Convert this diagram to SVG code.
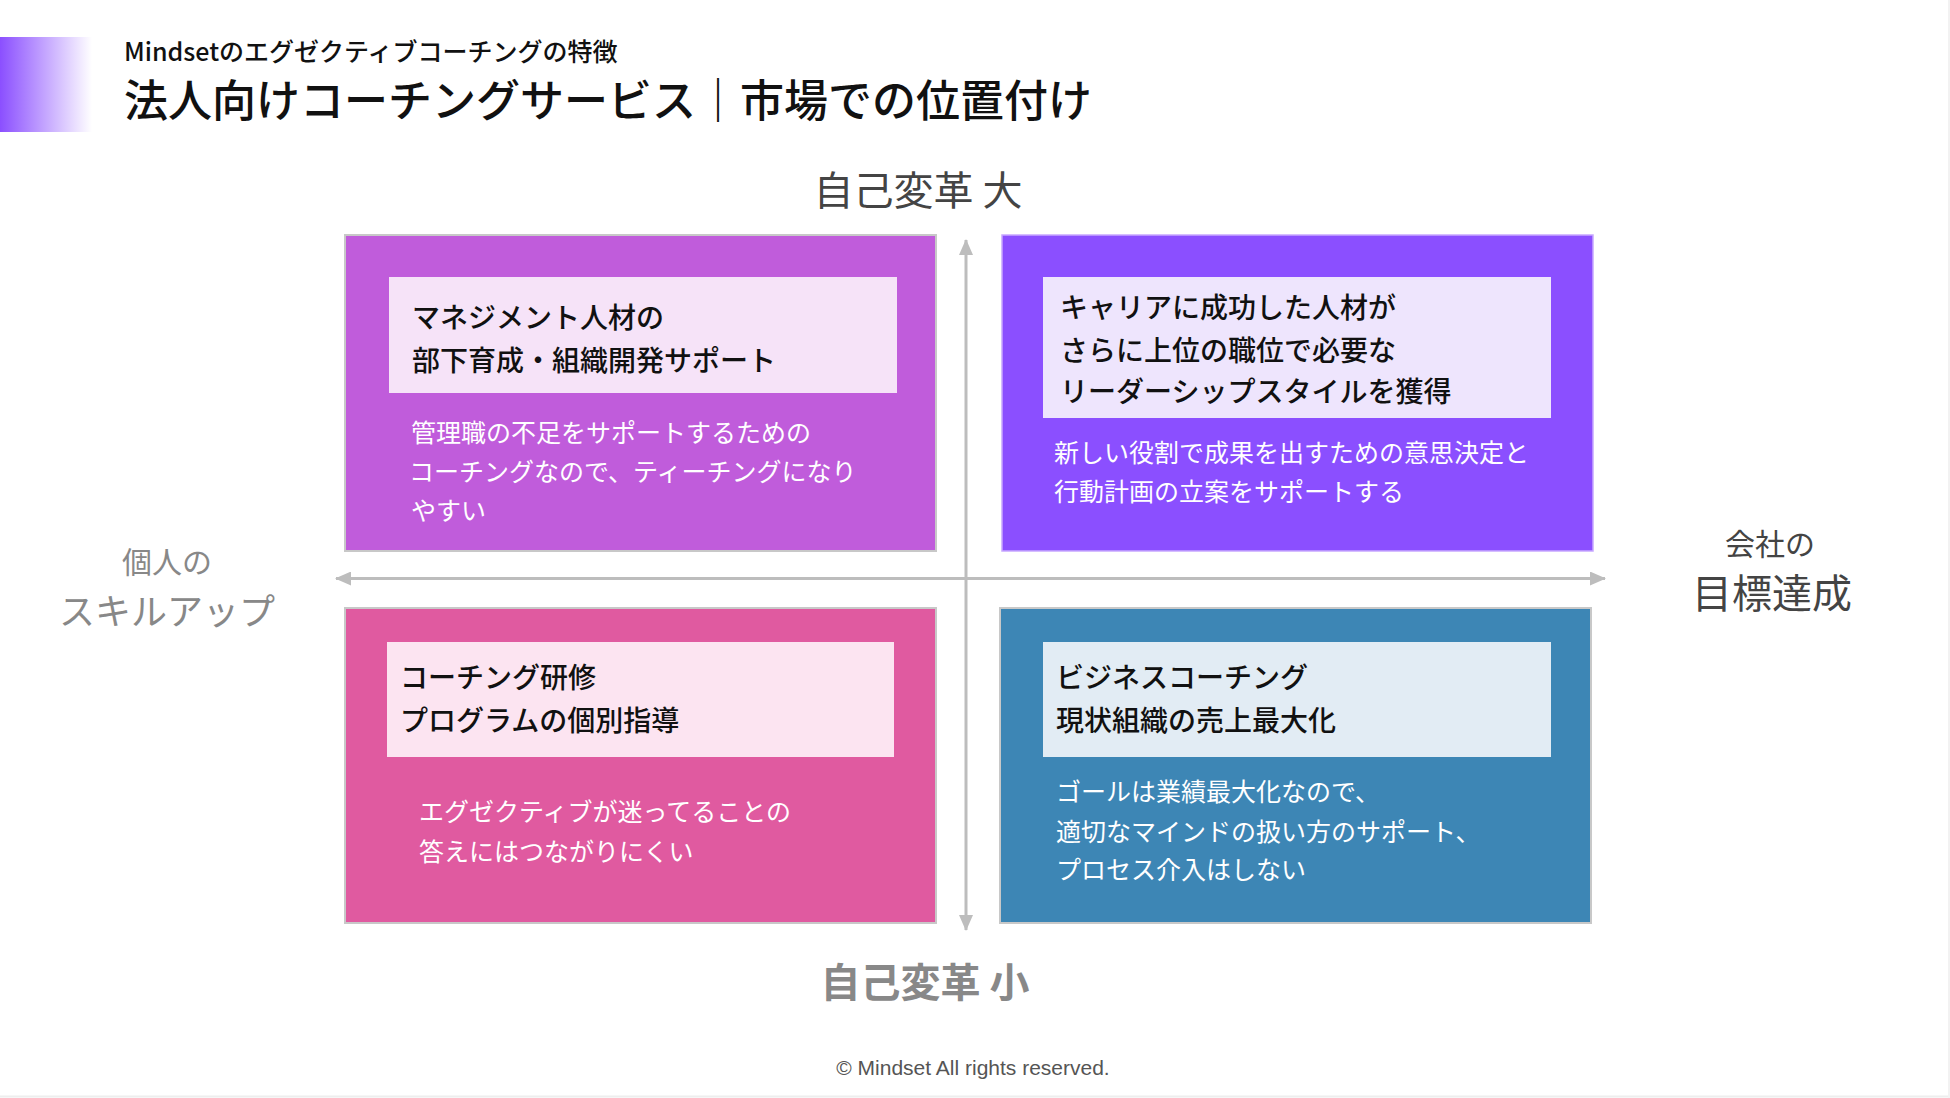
<svg xmlns="http://www.w3.org/2000/svg" width="1950" height="1098" viewBox="0 0 1950 1098">
<defs>
<linearGradient id="hdr" x1="0" y1="0" x2="1" y2="0">
<stop offset="0" stop-color="#8B4FFF"/>
<stop offset="1" stop-color="#8B4FFF" stop-opacity="0"/>
</linearGradient>
<marker id="ah" viewBox="0 0 16 14" refX="15" refY="7" markerWidth="16" markerHeight="14" markerUnits="userSpaceOnUse" orient="auto-start-reverse">
<path d="M0,0 L16,7 L0,14 Z" fill="#bdbdbd"/>
</marker>
<style>
text{font-family:"Noto Sans CJK JP","Noto Sans",sans-serif;}
.ttl{font-size:28px;font-weight:500;fill:#111;}
.dsc{font-size:25px;fill:#ffffff;}
.quad{stroke:#c8c8c8;stroke-width:2;}
.axis{stroke:#bdbdbd;stroke-width:3;fill:none;}
</style>
</defs>
<rect width="1950" height="1098" fill="#ffffff"/>
<line x1="0" y1="1096.5" x2="1950" y2="1096.5" stroke="#eeeeee" stroke-width="2"/>
<line x1="1949" y1="0" x2="1949" y2="1098" stroke="#f2f2f2" stroke-width="2"/>
<g id="header">
<rect x="0" y="37" width="92" height="95" fill="url(#hdr)"/>
<text x="124" y="61" font-size="25" font-weight="500" fill="#111">Mindsetのエグゼクティブコーチングの特徴</text>
<text x="124" y="117" font-size="44" font-weight="500" fill="#111">法人向けコーチングサービス｜市場での位置付け</text>
</g>
<g id="connectors">
<line class="axis" x1="966" y1="930" x2="966" y2="240" marker-start="url(#ah)" marker-end="url(#ah)"/>
<line class="axis" x1="336" y1="578.5" x2="1605" y2="578.5" marker-start="url(#ah)" marker-end="url(#ah)"/>
</g>
<g id="quad-tl">
<rect class="quad" x="345" y="235" width="591" height="316" fill="#C05CDB"/>
<rect x="389" y="277" width="508" height="116" fill="#F6E3F8"/>
<text class="ttl" x="412" y="328">マネジメント人材の</text>
<text class="ttl" x="412" y="371">部下育成・組織開発サポート</text>
<text class="dsc" x="411" y="442">管理職の不足をサポートするための</text>
<text class="dsc" x="409" y="481">コーチングなので、ティーチングになり</text>
<text class="dsc" x="411" y="520">やすい</text>
</g>
<g id="quad-tr">
<rect x="1002" y="235" width="591" height="316" fill="#8B4FFF" stroke="#c7a8ff" stroke-width="1.5"/>
<rect x="1043" y="277" width="508" height="141" fill="#EEE5FD"/>
<text class="ttl" x="1060" y="318">キャリアに成功した人材が</text>
<text class="ttl" x="1060" y="361">さらに上位の職位で必要な</text>
<text class="ttl" x="1060" y="402">リーダーシップスタイルを獲得</text>
<text class="dsc" x="1054" y="462">新しい役割で成果を出すための意思決定と</text>
<text class="dsc" x="1054" y="501">行動計画の立案をサポートする</text>
</g>
<g id="quad-bl">
<rect class="quad" x="345" y="608" width="591" height="315" fill="#E05AA0"/>
<rect x="387" y="642" width="507" height="115" fill="#FCE4F1"/>
<text class="ttl" x="400" y="688">コーチング研修</text>
<text class="ttl" x="400" y="731">プログラムの個別指導</text>
<text class="dsc" x="419" y="821">エグゼクティブが迷ってることの</text>
<text class="dsc" x="419" y="861">答えにはつながりにくい</text>
</g>
<g id="quad-br">
<rect class="quad" x="1000" y="608" width="591" height="315" fill="#3D86B5"/>
<rect x="1043" y="642" width="508" height="115" fill="#E2ECF4"/>
<text class="ttl" x="1056" y="688">ビジネスコーチング</text>
<text class="ttl" x="1056" y="731">現状組織の売上最大化</text>
<text class="dsc" x="1056" y="801">ゴールは業績最大化なので、</text>
<text class="dsc" x="1056" y="841">適切なマインドの扱い方のサポート、</text>
<text class="dsc" x="1056" y="879">プロセス介入はしない</text>
</g>
<g id="label-top">
<text x="918" y="205" font-size="40" fill="#444" text-anchor="middle">自己変革 大</text>
</g>
<g id="label-bottom">
<text x="925" y="997" font-size="40" font-weight="bold" fill="#888" text-anchor="middle">自己変革 小</text>
</g>
<g id="label-left">
<text x="167" y="573" font-size="30" fill="#888" text-anchor="middle">個人の</text>
<text x="167" y="625" font-size="36" fill="#888" text-anchor="middle">スキルアップ</text>
</g>
<g id="label-right">
<text x="1770" y="555" font-size="30" fill="#444" text-anchor="middle">会社の</text>
<text x="1772" y="608" font-size="40" fill="#444" text-anchor="middle">目標達成</text>
</g>
<g id="footer">
<text x="973" y="1075" font-size="21" fill="#555" text-anchor="middle" style="font-family:'Liberation Sans',Arial,sans-serif">© Mindset All rights reserved.</text>
</g>
</svg>
